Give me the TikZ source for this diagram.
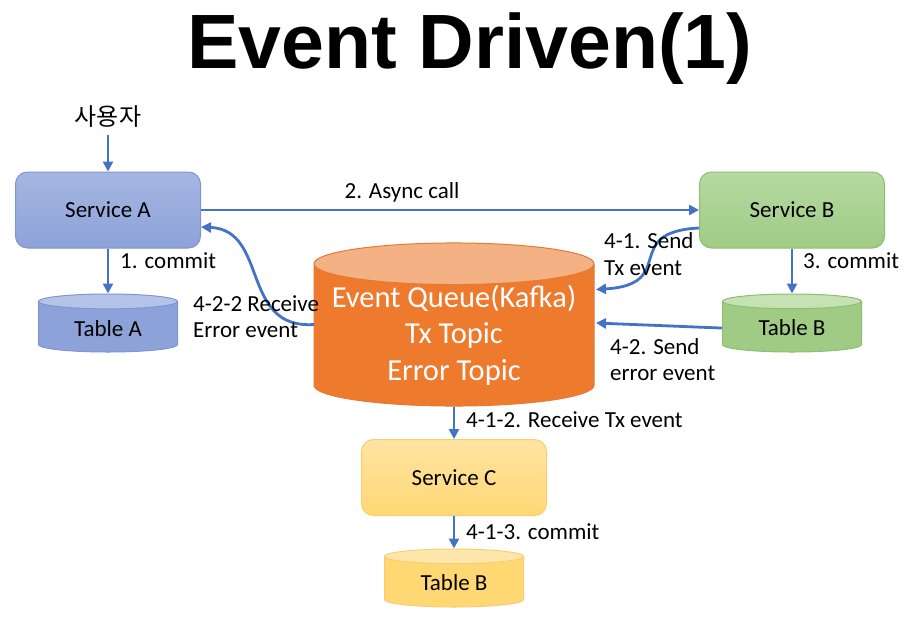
\documentclass[tikz,border=0pt]{standalone}
\usepackage{fontspec}
\setmainfont{Carlito}
\newfontfamily\titlefont{Liberation Sans}
\newfontfamily\korfont{Noto Sans CJK KR}
\usetikzlibrary{shapes.geometric,arrows.meta}

\definecolor{arrblue}{HTML}{4472C4}
\definecolor{blueTop}{HTML}{A5B6E1}
\definecolor{blueBot}{HTML}{8DA2D8}
\definecolor{blueLine}{HTML}{7F95CF}
\definecolor{blueCap}{HTML}{B4C3E8}
\definecolor{greenTop}{HTML}{B6DAA2}
\definecolor{greenBot}{HTML}{9FCB84}
\definecolor{greenLine}{HTML}{8DBE72}
\definecolor{greenCap}{HTML}{C4E2B3}
\definecolor{yellowTop}{HTML}{FFE4A3}
\definecolor{yellowBot}{HTML}{FFD874}
\definecolor{yellowLine}{HTML}{F5CF72}
\definecolor{yellowCap}{HTML}{FFE7AC}
\definecolor{kafkaBody}{HTML}{EE7A2E}
\definecolor{kafkaCap}{HTML}{F4B183}
\definecolor{kafkaLine}{HTML}{E57A36}

\tikzset{
  svc/.style={rounded corners=12pt, line width=1pt, minimum width=185pt, minimum height=76pt,
              font=\fontsize{23}{27}\selectfont},
  tbl/.style={cylinder, shape border rotate=90, aspect=0.2, line width=1pt,
              minimum width=139pt, minimum height=58pt, cylinder uses custom fill,
              font=\fontsize{23}{27}\selectfont},
  lbl/.style={font=\fontsize{23}{26.5}\selectfont, align=left, anchor=west, inner sep=0pt},
  arr/.style={draw=arrblue, line width=2.8pt, -{Triangle[length=10pt,width=10pt]}}
}

\begin{document}
\begin{tikzpicture}[x=1pt,y=-1pt]
  \useasboundingbox[fill=white] (0,0) rectangle (914,622);

  %title
  \node[anchor=base, inner sep=0pt] (title) at (470,68) {\titlefont\bfseries\fontsize{77}{80}\selectfont Event Driven(1)};
  \node (user) at (108,117) {\korfont\fontsize{24}{28}\selectfont 사용자};

  %services
  \foreach \x/\y/\col/\name/\txt in {108/210/blue/svcA/Service A, 792/210/green/svcB/Service B, 454/477.5/yellow/svcC/Service C}{
      \node[svc, top color=\col Top, bottom color=\col Bot, draw=\col Line] (\name) at (\x,\y) {\txt};
  }

  %tables
  \foreach \x/\y/\col/\name/\txt in {108/323/blue/tabA/Table A, 792/323/green/tabB/Table B, 454/578/yellow/tabC/Table B}{
      \node[tbl, draw=\col Line, cylinder body fill=\col Bot, cylinder end fill=\col Cap, anchor=shape center] (\name) at (\x,\y) {\txt};
  }

  %event queue
  \node[tbl, draw=kafkaLine, cylinder body fill=kafkaBody, cylinder end fill=kafkaCap,
        minimum width=280pt, minimum height=150pt, aspect=0.17, anchor=shape center, inner sep=0pt,
        text=white, align=center, font=\fontsize{30.5}{36.5}\selectfont] (kafka) at (454,324.5)
        {Event Queue(Kafka)\\Tx Topic\\Error Topic};

  %arrows
  \draw[arr, shorten <=4pt] (user) -- (svcA);
  \draw[arr] (svcA) -- (svcB);
  \draw[arr] (svcA) -- (tabA);
  \draw[arr] (svcB) -- (tabB);
  \draw[arr] ([yshift=-18pt]svcB.west) .. controls +(-79,4) and +(83,-5) .. ([xshift=142pt,yshift=35pt]kafka.shape center);
  \draw[arr] (tabB.west) -- ([xshift=142pt,yshift=1.5pt]kafka.shape center);
  \draw[arr] ([xshift=-140pt]kafka.shape center) .. controls +(-74,5) and +(68,3) .. ([yshift=-17pt]svcA.east);
  \draw[arr] (kafka) -- (svcC);
  \draw[arr] (svcC) -- (tabC);

  %labels
  \node[lbl, anchor=center] (async) at (402,192) {2. Async call};
  \node[lbl] (commitA) at (120,261) {1. commit};
  \node[lbl] (commitB) at (803,261) {3. commit};
  \node[lbl] (sendTx) at (604,254) {4-1. Send\\Tx event};
  \node[lbl] (sendErr) at (610,359.5) {4-2. Send\\error event};
  \node[lbl] (recvErr) at (193,316.5) {4-2-2 Receive\\Error event};
  \node[lbl] (recvTx) at (466,420) {4-1-2. Receive Tx event};
  \node[lbl] (commitC) at (466,532) {4-1-3. commit};

\end{tikzpicture}
\end{document}
